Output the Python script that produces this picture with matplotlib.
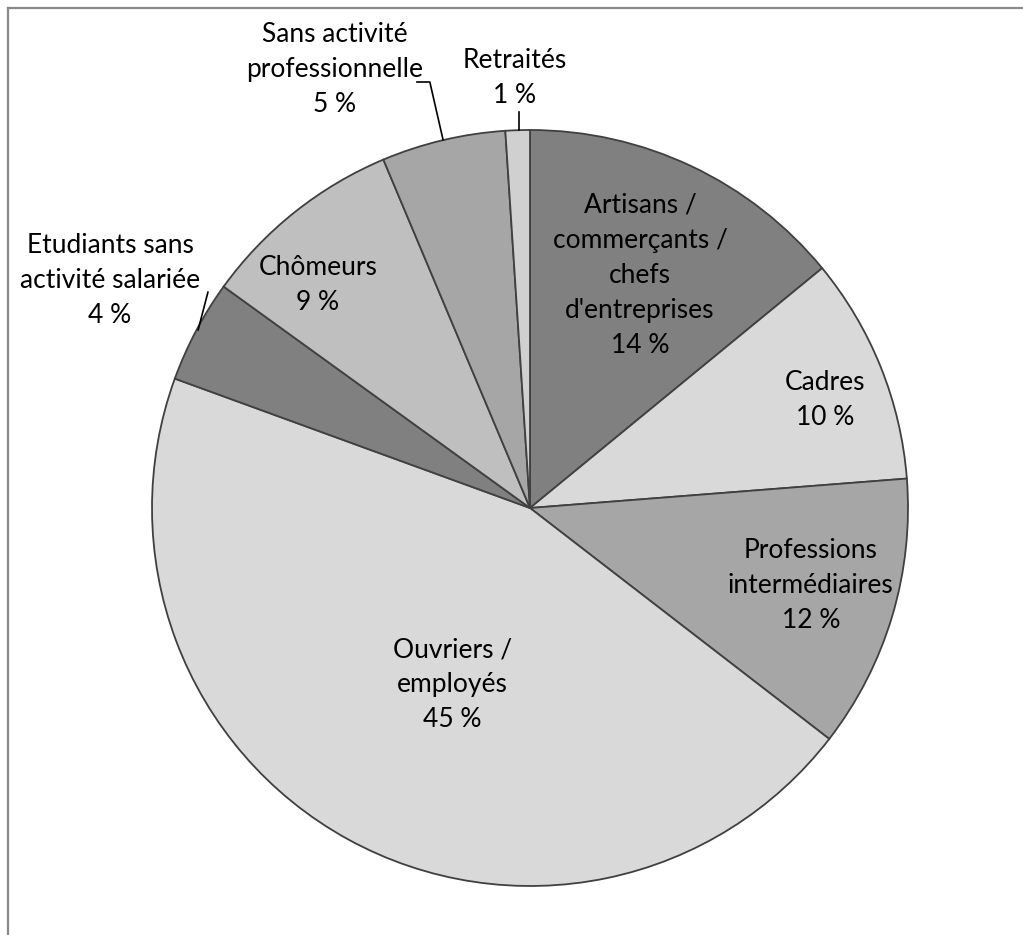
import matplotlib
matplotlib.use("Agg")
import matplotlib.pyplot as plt
from matplotlib.lines import Line2D

plt.rcParams['font.family'] = ['Lato', 'DejaVu Sans']

# Données (part en %)
categories = ["Artisans /\ncommerçants /\nchefs\nd'entreprises", "Cadres", "Professions\nintermédiaires",
              "Ouvriers /\nemployés", "Etudiants sans\nactivité salariée", "Chômeurs",
              "Sans activité\nprofessionnelle", "Retraités"]
valeurs = [14.06, 9.7, 11.7, 45.1, 4.4, 8.7, 5.3, 1.04]
pourcents = ["14 %", "10 %", "12 %", "45 %", "4 %", "9 %", "5 %", "1 %"]
couleurs = ['#808080', '#d9d9d9', '#a6a6a6', '#d9d9d9', '#808080', '#bfbfbf', '#a6a6a6', '#d0d0d0']

# position des étiquettes (coord. du camembert, rayon = 1)
pos_labels = [(0.291, 0.616), (0.780, 0.286), (0.743, -0.204), (-0.206, -0.468),
              (-1.111, 0.603), (-0.561, 0.590), (-0.516, 1.159), (-0.040, 1.138)]

W, H = 1023, 935
fig = plt.figure(figsize=(W / 100, H / 100), dpi=100)
cx, cy, r = 530, 508, 378
ax = fig.add_axes([(cx - r) / W, (H - cy - r) / H, 2 * r / W, 2 * r / H])

ax.pie(valeurs, colors=couleurs, startangle=90, counterclock=False, radius=1,
       wedgeprops=dict(edgecolor='#404040', linewidth=1.3))
ax.set_xlim(-1, 1)
ax.set_ylim(-1, 1)
ax.set_aspect('equal')
ax.axis('off')

for cat, pc, (x, y) in zip(categories, pourcents, pos_labels):
    ax.text(x, y, cat + "\n" + pc, ha='center', va='center', fontsize=19,
            linespacing=1.5, color='black')

# traits de rappel
ax.plot([-0.852, -0.878], [0.571, 0.471], color='black', lw=1.2, clip_on=False)
ax.plot([-0.299, -0.265, -0.230], [1.127, 1.127, 0.974], color='black', lw=1.2, clip_on=False)
ax.plot([-0.029, -0.029], [1.048, 1.0], color='black', lw=1.2, clip_on=False)

# cadre
fig.add_artist(Line2D([7.5 / W, 1], [1 - 8 / H, 1 - 8 / H], color='#898989', lw=1.6))
fig.add_artist(Line2D([7.5 / W, 7.5 / W], [0, 1 - 8 / H], color='#898989', lw=1.6))

fig.savefig("out.png", dpi=100)
